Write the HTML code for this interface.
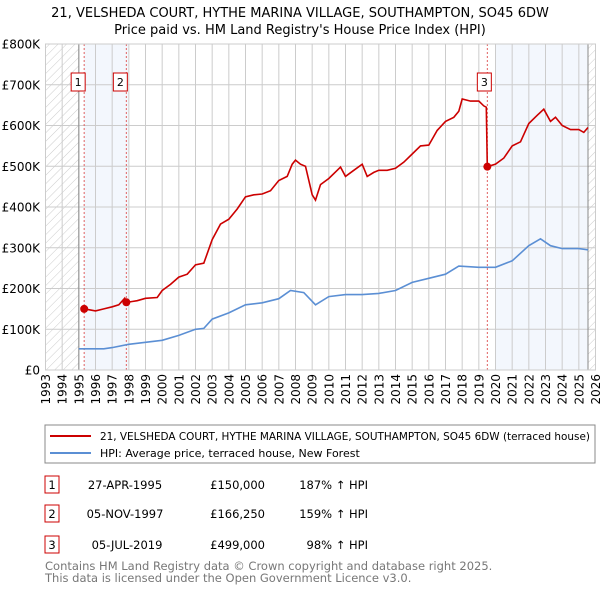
<!DOCTYPE html>
<html><head><meta charset="utf-8"><style>
body{margin:0;background:#fff;font-family:"DejaVu Sans","Liberation Sans",sans-serif;}
</style></head><body>
<svg width="600" height="590" xmlns="http://www.w3.org/2000/svg" style="font-family:'DejaVu Sans','Liberation Sans',sans-serif">
<defs><pattern id="hatch" width="6" height="6" patternUnits="userSpaceOnUse" patternTransform="rotate(45)"><line x1="0" y1="0" x2="0" y2="6" stroke="#ccc" stroke-width="1"/></pattern></defs>
<text x="300" y="17" text-anchor="middle" font-size="13">21, VELSHEDA COURT, HYTHE MARINA VILLAGE, SOUTHAMPTON, SO45 6DW</text>
<text x="300" y="34" text-anchor="middle" font-size="13">Price paid vs. HM Land Registry's House Price Index (HPI)</text>
<g id="plot"></g>
<rect x="45" y="425" width="550" height="38" fill="#fff" stroke="#888"/>
<line x1="50" y1="436" x2="91" y2="436" stroke="#cc0000" stroke-width="2"/>
<text x="100" y="440" font-size="11" textLength="490" lengthAdjust="spacingAndGlyphs">21, VELSHEDA COURT, HYTHE MARINA VILLAGE, SOUTHAMPTON, SO45 6DW (terraced house)</text>
<line x1="50" y1="453" x2="91" y2="453" stroke="#5b8fd4" stroke-width="2"/>
<text x="100" y="457" font-size="11">HPI: Average price, terraced house, New Forest</text>
<g font-size="11.5">
<rect x="45" y="476" width="14" height="17" fill="#fff" stroke="#cc0000"/><text x="52" y="489" text-anchor="middle">1</text>
<text x="125" y="489" text-anchor="middle">27-APR-1995</text><text x="265" y="489" text-anchor="end">£150,000</text><text x="368" y="489" text-anchor="end">187% ↑ HPI</text>
<rect x="45" y="505" width="14" height="17" fill="#fff" stroke="#cc0000"/><text x="52" y="518" text-anchor="middle">2</text>
<text x="125" y="518" text-anchor="middle">05-NOV-1997</text><text x="265" y="518" text-anchor="end">£166,250</text><text x="368" y="518" text-anchor="end">159% ↑ HPI</text>
<rect x="45" y="536" width="14" height="17" fill="#fff" stroke="#cc0000"/><text x="52" y="549" text-anchor="middle">3</text>
<text x="127" y="549" text-anchor="middle">05-JUL-2019</text><text x="265" y="549" text-anchor="end">£499,000</text><text x="368" y="549" text-anchor="end">98% ↑ HPI</text>
</g>
<text x="45" y="570" font-size="11.5" fill="#777">Contains HM Land Registry data © Crown copyright and database right 2025.</text>
<text x="45" y="582" font-size="11.5" fill="#777">This data is licensed under the Open Government Licence v3.0.</text>
</svg>
<script>
const yTicks=[0,100,200,300,400,500,600,700,800];
const yTickLabels=["£0","£100K","£200K","£300K","£400K","£500K","£600K","£700K","£800K"];
const years=[1993,1994,1995,1996,1997,1998,1999,2000,2001,2002,2003,2004,2005,2006,2007,2008,2009,2010,2011,2012,2013,2014,2015,2016,2017,2018,2019,2020,2021,2022,2023,2024,2025,2026];
const saleDates=[1995.32,1997.85,2019.51];
const salePrices=[150,166.25,499];
const saleLabels=["1","2","3"];
const propT=[1995.32,1995.6,1996,1996.5,1997,1997.4,1997.75,1997.85,1998.2,1998.5,1999,1999.7,2000,2000.5,2001,2001.5,2002,2002.5,2003,2003.5,2004,2004.5,2005,2005.5,2006,2006.5,2007,2007.5,2007.8,2008,2008.3,2008.6,2009.0,2009.2,2009.5,2010,2010.5,2010.7,2011,2011.5,2012,2012.3,2012.7,2013,2013.5,2014,2014.5,2015,2015.5,2016,2016.5,2017,2017.5,2017.8,2018,2018.5,2019,2019.3,2019.45,2019.51,2020,2020.5,2021,2021.5,2022,2022.5,2022.9,2023.3,2023.6,2024,2024.5,2025,2025.3,2025.55];
const propV=[150,148,145,150,155,160,176,166,168,170,176,178,195,210,228,235,258,262,320,358,370,395,425,430,432,440,465,475,505,515,505,500,430,417,455,470,490,498,475,490,505,475,485,490,490,495,510,530,550,552,588,610,620,635,665,660,660,648,645,499,505,520,550,560,605,625,640,610,620,600,590,590,583,595];
const hpiT=[1995,1996,1996.5,1997,1998,1999,2000,2001,2002,2002.5,2003,2004,2005,2006,2007,2007.7,2008.5,2009.2,2010,2011,2012,2013,2014,2015,2016,2017,2017.8,2019,2020,2021,2022,2022.7,2023.3,2024,2025,2025.55];
const hpiV=[52,52,52,55,63,68,73,85,100,102,125,140,160,165,175,195,190,160,180,185,185,188,195,215,225,235,255,252,252,268,305,322,305,298,298,295];
const X0=45.5,X1=595.5,Y0=370,Y1=44;
const xs=t=>X0+(t-1993)/(2026-1993)*(X1-X0);
const ys=v=>Y0-v/800*(Y0-Y1);
const NS="http://www.w3.org/2000/svg";
const g=document.getElementById('plot');
function mk(tag,attrs,parent){const e=document.createElementNS(NS,tag);for(const k in attrs)e.setAttribute(k,attrs[k]);(parent||g).appendChild(e);return e;}
let e;
e=mk('rect',{x:X0,y:Y1,width:X1-X0,height:Y0-Y1,fill:'#fff'});


e=mk('rect',{x:X0,y:Y1,width:xs(1995)-X0,height:Y0-Y1,fill:'url(#hatch)'});


e=mk('rect',{x:xs(2025.55),y:Y1,width:X1-xs(2025.55),height:Y0-Y1,fill:'url(#hatch)'});


e=mk('rect',{x:xs(saleDates[0]),y:Y1,width:xs(saleDates[1]+0.1)-xs(saleDates[0]),height:Y0-Y1,fill:'#eef3fc',opacity:0.7});


e=mk('rect',{x:xs(2020),y:Y1,width:xs(2025.55)-xs(2020),height:Y0-Y1,fill:'#eef3fc',opacity:0.7});


yTicks.forEach((v,i)=>{
 e=mk('line',{x1:X0,x2:X1,y1:ys(v),y2:ys(v),stroke:'#ccc'});
 
 
 e=mk('text',{x:40,y:ys(v)+4.5,'text-anchor':'end','font-size':12});
 e.textContent=yTickLabels[i];
 
 
});
years.forEach(yr=>{
 e=mk('line',{x1:xs(yr),x2:xs(yr),y1:Y1,y2:Y0,stroke:'#ccc'});
 
 
 e=mk('text',{x:0,y:0,'font-size':12,'text-anchor':'end',transform:`translate(${xs(yr)+4.5},374) rotate(-90)`});
 e.textContent=yr;
 
 
});
e=mk('line',{x1:xs(1995),x2:xs(1995),y1:Y1,y2:Y0,stroke:'#888'});


e=mk('line',{x1:xs(2025.55),x2:xs(2025.55),y1:Y1,y2:Y0,stroke:'#888'});


saleDates.forEach((d,i)=>{
 e=mk('line',{x1:xs(d),x2:xs(d),y1:Y1,y2:Y0,stroke:'#e06060','stroke-dasharray':'2,2'});
 
 
});
e=mk('path',{d:hpiT.map((t,i)=>(i?'L':'M')+xs(t).toFixed(1)+','+ys(hpiV[i]).toFixed(1)).join(''),fill:'none',stroke:'#5b8fd4','stroke-width':1.6});


e=mk('path',{d:propT.map((t,i)=>(i?'L':'M')+xs(t).toFixed(1)+','+ys(propV[i]).toFixed(1)).join(''),fill:'none',stroke:'#cc0000','stroke-width':1.6});


saleDates.forEach((d,i)=>{
 e=mk('circle',{cx:xs(d),cy:ys(salePrices[i]),r:4,fill:'#cc0000'});
 
 
 const bx=xs(d)+(i===2?-3:-6);
 e=mk('rect',{x:bx-7,y:73,width:14,height:18,fill:'#fff',stroke:'#cc0000'});
 
 
 e=mk('text',{x:bx,y:86,'text-anchor':'middle','font-size':11});
 e.textContent=saleLabels[i];
 
 
});
e=mk('rect',{x:X0,y:Y1,width:X1-X0,height:Y0-Y1,fill:'none',stroke:'#ccc'});


</script>
</body></html>
